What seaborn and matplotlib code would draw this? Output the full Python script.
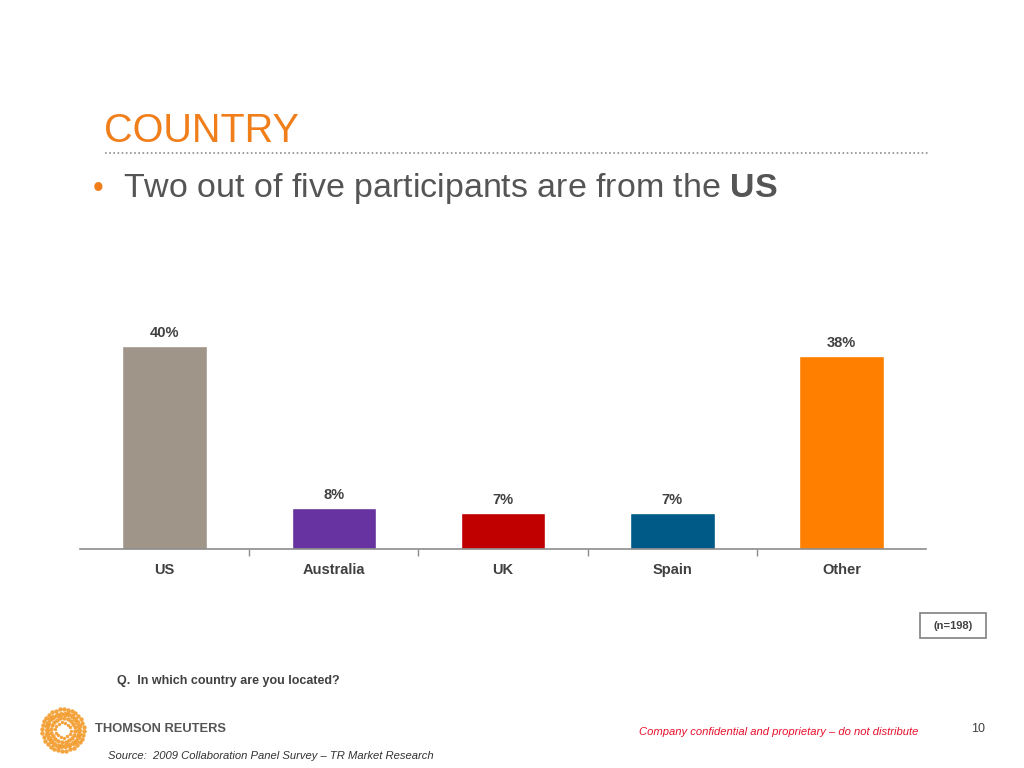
import numpy as np
import pandas as pd
import matplotlib
matplotlib.use("Agg")
import matplotlib.pyplot as plt
from matplotlib.ticker import FixedLocator
from matplotlib.patches import Rectangle
import seaborn as sns

# Chart data
countries = ["US", "Australia", "UK", "Spain", "Other"]
shares = [40, 8, 7, 7, 38]
bar_colors = ["#A09589", "#6633A0", "#C00000", "#005A87", "#FF8000"]

sns.set_style("white")
plt.rcParams["font.family"] = ["Liberation Sans", "DejaVu Sans"]
plt.rcParams["mathtext.fontset"] = "custom"
plt.rcParams["mathtext.rm"] = "Liberation Sans"
plt.rcParams["mathtext.bf"] = "Liberation Sans:bold"

narrow = ["Liberation Sans Narrow", "Liberation Sans", "DejaVu Sans"]

df = pd.DataFrame({"country": countries, "share": shares})

fig = plt.figure(figsize=(10.24, 7.68), dpi=100)

# Slide header
fig.text(104 / 1024, 1 - 142 / 768, "COUNTRY", fontsize=28.5, color="#F07F1B")
fig.add_artist(plt.Line2D([105 / 1024, 928 / 1024], [1 - 153 / 768] * 2,
                          color="#8C8C8C", lw=1.2, ls=(0, (1, 1.5))))
fig.text(93 / 1024, 1 - 197 / 768, "\u2022", fontsize=22, color="#F07F1B")
fig.text(123 / 1024, 1 - 197 / 768,
         "Two out of five participants are from the $\\mathbf{US}$",
         fontsize=24.5, color="#555555")

# Bar chart
ax = fig.add_axes([80 / 1024, 1 - 549 / 768, 846 / 1024, 228.4 / 768])
sns.barplot(data=df, x="country", y="share", hue="country", palette=bar_colors,
            width=0.5, legend=False, ax=ax, saturation=1)
ax.set_ylim(0, 45)
ax.set_xlim(-0.5, len(countries) - 0.5)
ax.set_xlabel("")
ax.set_ylabel("")
ax.set_yticks([])
for s in ["top", "right", "left"]:
    ax.spines[s].set_visible(False)
ax.spines["bottom"].set_color("#8C8C8C")
ax.spines["bottom"].set_linewidth(1.2)
ax.tick_params(axis="x", which="major", length=0, pad=10, labelsize=10.5,
               labelcolor="#404040")
for lbl in ax.get_xticklabels():
    lbl.set_fontweight("bold")
    lbl.set_family(narrow)
ax.xaxis.set_minor_locator(FixedLocator(np.arange(0.5, len(countries) - 0.5, 1)))
ax.tick_params(axis="x", which="minor", bottom=True, length=5,
               color="#8C8C8C", width=1)

for i, v in enumerate(shares):
    ax.text(i, v + 1.2, f"{v}%", ha="center", va="bottom", fontsize=10.5,
            fontweight="bold", color="#404040", family=narrow)

# Notes
fig.add_artist(Rectangle((920 / 1024, 1 - 638 / 768), 66 / 1024, 25 / 768,
                         transform=fig.transFigure, fc="white",
                         ec="#808080", lw=1.2))
fig.text(953 / 1024, 1 - 626 / 768, "(n=198)", fontsize=8, fontweight="bold",
         color="#404040", ha="center", va="center")
fig.text(117 / 1024, 1 - 681 / 768, "Q.  In which country are you located?",
         fontsize=9, fontweight="bold", color="#404040", va="center")

# Footer
fig.text(95 / 1024, 1 - 729 / 768, "THOMSON REUTERS", fontsize=9.3,
         fontweight="bold", color="#555555", va="center")
fig.text(108 / 1024, 1 - 756 / 768,
         "Source:  2009 Collaboration Panel Survey \u2013 TR Market Research",
         fontsize=8.1, style="italic", color="#333333", va="center")
fig.text(918 / 1024, 1 - 732 / 768,
         "Company confidential and proprietary \u2013 do not distribute",
         fontsize=8.1, style="italic", color="#E8112D", ha="right", va="center")
fig.text(985 / 1024, 1 - 729 / 768, "10", fontsize=9, color="#404040",
         ha="right", va="center")

# Logo: ring of dots
lax = fig.add_axes([40 / 1024, 1 - 753 / 768, 46 / 1024, 46 / 768])
for r, n, s in [(0.35, 14, 6), (0.55, 20, 10), (0.75, 26, 14), (0.95, 32, 10)]:
    ang = np.linspace(0, 2 * np.pi, n, endpoint=False) + r
    lax.scatter(r * np.cos(ang), r * np.sin(ang), s=s, color="#F39A2A",
                alpha=0.9, linewidths=0)
lax.set_xlim(-1.05, 1.05)
lax.set_ylim(-1.05, 1.05)
lax.set_aspect("equal")
lax.axis("off")

fig.savefig("out.png", dpi=100)
